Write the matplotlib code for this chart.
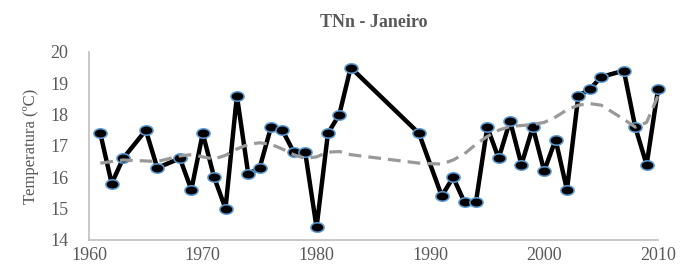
import numpy as np
import matplotlib.pyplot as plt
from matplotlib.path import Path

# Observed January TNn (°C)
years = [1961, 1962, 1963, 1965, 1966, 1968, 1969, 1970, 1971, 1972,
         1973, 1974, 1975, 1976, 1977, 1978, 1979, 1980, 1981, 1982,
         1983, 1989, 1991, 1992, 1993, 1994, 1995, 1996, 1997, 1998,
         1999, 2000, 2001, 2002, 2003, 2004, 2005, 2007, 2008, 2009, 2010]
tnn = [17.4, 15.8, 16.6, 17.5, 16.3, 16.6, 15.6, 17.4, 16.0, 15.0,
       18.6, 16.1, 16.3, 17.6, 17.5, 16.8, 16.8, 14.4, 17.4, 18.0,
       19.5, 17.4, 15.4, 16.0, 15.2, 15.2, 17.6, 16.6, 17.8, 16.4,
       17.6, 16.2, 17.2, 15.6, 18.6, 18.8, 19.2, 19.4, 17.6, 16.4, 18.8]

# Smoothed trend (dashed)
trend_years = [1961, 1963, 1965, 1966, 1968, 1969, 1970, 1971, 1972, 1973,
               1974, 1975, 1976, 1977, 1978, 1979, 1980, 1981, 1982, 1983,
               1989, 1991, 1992, 1993, 1994, 1995, 1996, 1997, 1998, 1999,
               2000, 2001, 2002, 2003, 2004, 2005, 2007, 2008, 2009, 2010]
trend = [16.45, 16.55, 16.52, 16.5, 16.68, 16.72, 16.65, 16.58, 16.7, 16.9,
         17.05, 17.1, 17.05, 16.9, 16.72, 16.6, 16.65, 16.8, 16.82, 16.72,
         16.45, 16.42, 16.55, 16.75, 17.05, 17.3, 17.5, 17.62, 17.65, 17.68,
         17.75, 17.92, 18.15, 18.3, 18.35, 18.3, 17.85, 17.6, 17.75, 18.6]

gray_txt = '#595959'

# wide elliptical marker
t = np.linspace(0, 2 * np.pi, 40)
ellipse = Path(np.column_stack([1.4 * np.cos(t), np.sin(t)]), closed=True)

plt.rcParams['font.family'] = 'Liberation Serif'

fig = plt.figure(figsize=(6.84, 2.66), dpi=100)
ax = fig.add_axes([0.130, 0.098, 0.832, 0.707])

ax.plot(trend_years, trend, color='#999999', lw=2.3, dashes=(4, 2.2),
        zorder=3, clip_on=False)
ax.plot(years, tnn, color='black', lw=3.2, marker=ellipse, markersize=9.5,
        markerfacecolor='black', markeredgecolor='#5b9bd5',
        markeredgewidth=1.1, zorder=2, clip_on=False)

ax.set_xlim(1960, 2010)
ax.set_ylim(14, 20)
ax.set_xticks(range(1960, 2011, 10))
ax.set_yticks(range(14, 21))

for s in ['top', 'right']:
    ax.spines[s].set_visible(False)
for s in ['left', 'bottom']:
    ax.spines[s].set_color('#bfbfbf')
    ax.spines[s].set_linewidth(1.2)

ax.tick_params(axis='both', length=0, colors=gray_txt, labelsize=13)
ax.tick_params(axis='y', pad=15)
ax.tick_params(axis='x', pad=5)

ax.set_ylabel('Temperatura (ºC)', color=gray_txt, fontsize=12, labelpad=8)
ax.set_title('TNn - Janeiro', color=gray_txt, fontsize=13, fontweight='bold',
             pad=18)

fig.savefig('out.png', dpi=100)
